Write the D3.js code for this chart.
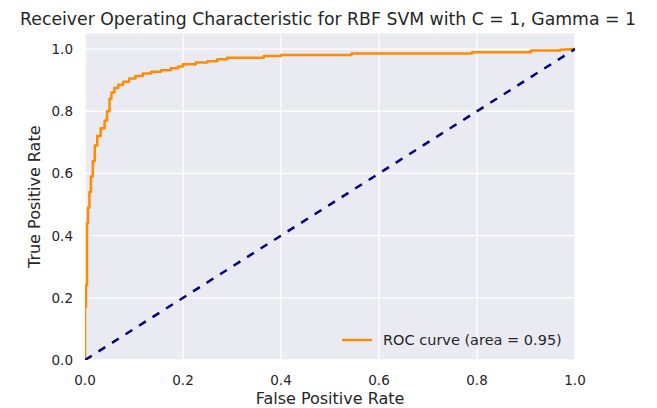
<!DOCTYPE html>
<html lang="en">
<head>
    <meta charset="UTF-8">
    <title>ROC curve - RBF SVM</title>
    <script src="https://d3js.org/d3.v7.min.js"></script>
    <style>
        body { margin: 0; background: #fff; }
        text { font-family: "DejaVu Sans", sans-serif; fill: #262626; }
        .grid line { stroke: #fff; stroke-width: 1.3px; }
        .tick-label { font-size: 13.5px; }
    </style>
</head>
<body>
<div id="chart"></div>
<script>
// ROC points (false positive rate, true positive rate)
const fpr = [0, 0, 0.002, 0.002, 0.004, 0.004, 0.006, 0.006, 0.009, 0.009,
    0.012, 0.012, 0.016, 0.016, 0.02, 0.02, 0.025, 0.025, 0.032, 0.032,
    0.04, 0.04, 0.045, 0.045, 0.05, 0.05, 0.054, 0.054, 0.06, 0.06,
    0.068, 0.068, 0.078, 0.078, 0.09, 0.09, 0.103, 0.103, 0.118, 0.118,
    0.135, 0.135, 0.155, 0.155, 0.175, 0.175, 0.19, 0.19, 0.2, 0.2,
    0.226, 0.226, 0.25, 0.25, 0.27, 0.27, 0.29, 0.29, 0.365, 0.365,
    0.4, 0.4, 0.544, 0.544, 0.79, 0.79, 0.91, 0.91, 0.97, 0.97, 1.0];
const tpr = [0, 0.171, 0.171, 0.241, 0.241, 0.44, 0.44, 0.49, 0.49, 0.54,
    0.54, 0.59, 0.59, 0.64, 0.64, 0.69, 0.69, 0.72, 0.72, 0.745,
    0.745, 0.77, 0.77, 0.8, 0.8, 0.84, 0.84, 0.86, 0.86, 0.875,
    0.875, 0.885, 0.885, 0.895, 0.895, 0.905, 0.905, 0.913, 0.913, 0.921,
    0.921, 0.927, 0.927, 0.932, 0.932, 0.938, 0.938, 0.944, 0.944, 0.951,
    0.951, 0.957, 0.957, 0.961, 0.961, 0.967, 0.967, 0.972, 0.972, 0.978,
    0.978, 0.981, 0.981, 0.986, 0.986, 0.99, 0.99, 0.995, 0.995, 0.998, 1.0];
const chanceLine = [[0, 0], [1, 1]];
const ticks = [0, 0.2, 0.4, 0.6, 0.8, 1.0];
const rocArea = 0.95;

const width = 657, height = 408;
const margin = { top: 33.5, right: 82, bottom: 48, left: 85 };

const svg = d3.select("#chart").append("svg")
    .attr("width", width)
    .attr("height", height);

const x = d3.scaleLinear().domain([0, 1]).range([margin.left, width - margin.right]);
const y = d3.scaleLinear().domain([0, 1.05]).range([height - margin.bottom, margin.top]);

// axes background
svg.append("rect")
    .attr("x", x(0)).attr("y", y(1.05))
    .attr("width", x(1) - x(0)).attr("height", y(0) - y(1.05))
    .attr("fill", "#EAEAF2");

// grid
const grid = svg.append("g").attr("class", "grid");
grid.selectAll(".vx").data(ticks).enter().append("line")
    .attr("x1", d => x(d)).attr("x2", d => x(d))
    .attr("y1", y(0)).attr("y2", y(1.05));
grid.selectAll(".hy").data(ticks).enter().append("line")
    .attr("x1", x(0)).attr("x2", x(1))
    .attr("y1", d => y(d)).attr("y2", d => y(d));

// clip to axes like matplotlib does
svg.append("clipPath").attr("id", "clip")
    .append("rect")
    .attr("x", x(0)).attr("y", y(1.05))
    .attr("width", x(1) - x(0)).attr("height", y(0) - y(1.05));

const plot = svg.append("g").attr("clip-path", "url(#clip)");

const line = d3.line().x(d => x(d[0])).y(d => y(d[1]));

plot.append("path")
    .datum(fpr.map((f, i) => [f, tpr[i]]))
    .attr("d", line)
    .attr("fill", "none")
    .attr("stroke", "#FF8C00")
    .attr("stroke-width", 2.5)
    .attr("stroke-linejoin", "round");

plot.append("path")
    .datum(chanceLine)
    .attr("d", line)
    .attr("fill", "none")
    .attr("stroke", "#000080")
    .attr("stroke-width", 2.5)
    .attr("stroke-dasharray", "8,8");

// tick labels (no tick marks in darkgrid style)
svg.selectAll(".xt").data(ticks).enter().append("text")
    .attr("class", "tick-label")
    .attr("x", d => x(d)).attr("y", y(0) + 25)
    .attr("text-anchor", "middle")
    .text(d => d.toFixed(1));
svg.selectAll(".yt").data(ticks).enter().append("text")
    .attr("class", "tick-label")
    .attr("x", x(0) - 12).attr("y", d => y(d) + 5)
    .attr("text-anchor", "end")
    .text(d => d.toFixed(1));

// axis labels + title
svg.append("text")
    .attr("x", (x(0) + x(1)) / 2).attr("y", 404)
    .attr("text-anchor", "middle")
    .style("font-size", "16px")
    .text("False Positive Rate");
svg.append("text")
    .attr("transform", `translate(40,${(y(0) + y(1.05)) / 2}) rotate(-90)`)
    .attr("text-anchor", "middle")
    .style("font-size", "16px")
    .text("True Positive Rate");
svg.append("text")
    .attr("x", 328).attr("y", 25)
    .attr("text-anchor", "middle")
    .style("font-size", "17.3px")
    .text("Receiver Operating Characteristic for RBF SVM with C = 1, Gamma = 1");

// legend
const legend = svg.append("g").attr("transform", `translate(342,${y(0) - 20})`);
legend.append("line")
    .attr("x1", 0).attr("x2", 30).attr("y1", 0).attr("y2", 0)
    .attr("stroke", "#FF8C00").attr("stroke-width", 2.5);
legend.append("text")
    .attr("x", 41).attr("y", 5)
    .style("font-size", "14.5px")
    .text(`ROC curve (area = ${rocArea.toFixed(2)})`);
</script>
</body>
</html>
